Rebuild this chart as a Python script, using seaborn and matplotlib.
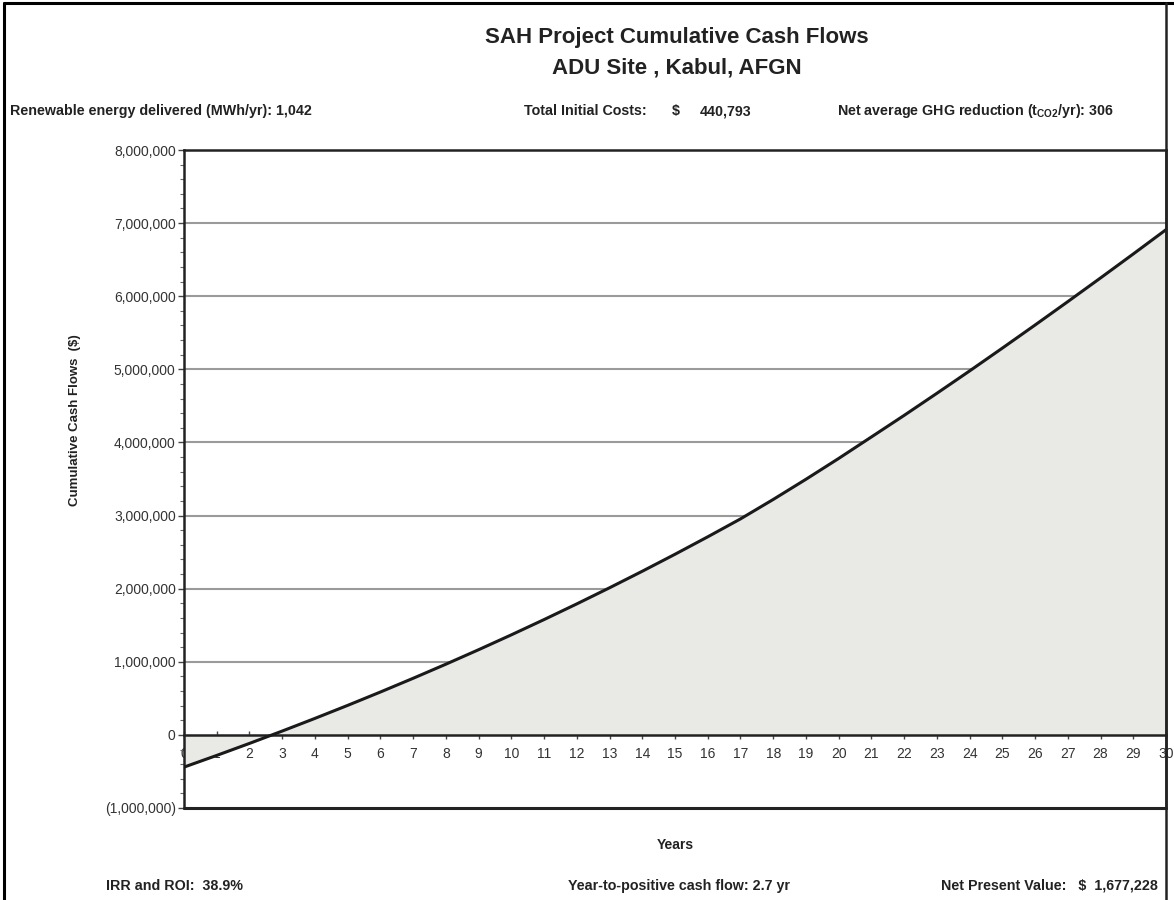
import seaborn as sns
import matplotlib.pyplot as plt
import matplotlib.ticker as mticker
from matplotlib.lines import Line2D
import pandas as pd

# values
years = list(range(0, 31))
cumulative = [-440793, -280800, -116500, 52300, 225600, 403600, 586400, 774100,
              966900, 1164900, 1368300, 1577200, 1791700, 2012000, 2238200,
              2470500, 2709100, 2954100, 3220000, 3496000, 3781000, 4075000,
              4370000, 4672000, 4978000, 5290000, 5606000, 5926000, 6250000,
              6578000, 6910000]

title_lines = ["SAH Project Cumulative Cash Flows", "ADU Site , Kabul, AFGN"]
energy_txt = "Renewable energy delivered (MWh/yr): 1,042"
cost_parts = ["Total Initial Costs:", "$", "440,793"]
ghg_txt = r"Net average GHG reduction (t$_{\mathrm{CO2}}$/yr): 306"
irr_txt = "IRR and ROI:  38.9%"
payback_txt = "Year-to-positive cash flow: 2.7 yr"
npv_txt = "Net Present Value:   $  1,677,228"

df = pd.DataFrame({"Years": years, "Cumulative": cumulative})

sns.set_theme(style="white")
plt.rcParams['font.family'] = ['Liberation Sans', 'DejaVu Sans']
plt.rcParams['mathtext.fontset'] = 'custom'
plt.rcParams['mathtext.rm'] = 'Liberation Sans:bold'

W, H = 1174, 900
fig = plt.figure(figsize=(W / 100, H / 100), dpi=100)
ax = fig.add_axes([184 / W, 1 - 808 / H, 982 / W, 658 / H])

# grid lines
for yv in range(1000000, 8000000, 1000000):
    ax.axhline(yv, color='#9a9a9a', lw=1.5, zorder=0)

ax.fill_between(df["Years"], df["Cumulative"], 0, color='#e9e9e6', zorder=1)
sns.lineplot(data=df, x="Years", y="Cumulative", color='#1a1a1a', lw=2.2, ax=ax, zorder=3)

ax.set_xlim(0, 30)
ax.set_ylim(-1000000, 8000000)

# x axis sits on the zero line
ax.spines['bottom'].set_position(('data', 0))
ax.spines['bottom'].set_linewidth(1.8)
ax.spines['bottom'].set_color('#222222')
ax.axhline(-1000000, color='#222222', lw=2.2, clip_on=False, zorder=4)
for s in ['left', 'top', 'right']:
    ax.spines[s].set_color('#222222')
    ax.spines[s].set_linewidth(1.8)

ax.set_xticks(years)
ax.set_xticklabels([str(y) for y in years])
ax.set_yticks(range(-1000000, 8000001, 1000000))
ax.yaxis.set_minor_locator(mticker.MultipleLocator(200000))
ax.yaxis.set_major_formatter(mticker.FuncFormatter(
    lambda v, p: f"{v:,.0f}" if v >= 0 else f"({-v:,.0f})"))
ax.tick_params(axis='y', which='major', left=True, length=4, width=1, color='#444444',
               labelsize=10, labelcolor='#333333', pad=2)
ax.tick_params(axis='y', which='minor', left=True, length=3, width=0.8, color='#666666')
ax.tick_params(axis='x', which='major', bottom=True, direction='inout', length=6, width=1,
               color='#444444', labelsize=10, labelcolor='#333333', pad=6)

ax.set_xlabel("Years", fontsize=10, fontweight='bold', color='#222222')
ax.xaxis.set_label_coords(0.5, -0.045)
ax.set_ylabel("Cumulative Cash Flows  ($)", fontsize=9.5, fontweight='bold', color='#222222')
ax.yaxis.set_label_coords(-0.105, 0.59)

# titles and summary text
txt = dict(va='baseline', fontsize=10.3, fontweight='bold', color='#222222')
fig.text(677 / W, 1 - 37 / H, title_lines[0], ha='center', va='center',
         fontsize=16, fontweight='bold', color='#222222')
fig.text(677 / W, 1 - 68 / H, title_lines[1], ha='center', va='center',
         fontsize=16, fontweight='bold', color='#222222')
fig.text(10 / W, 1 - 115 / H, energy_txt, ha='left', **txt)
fig.text(524 / W, 1 - 115 / H, cost_parts[0], ha='left', **txt)
fig.text(672 / W, 1 - 115 / H, cost_parts[1], ha='left', **txt)
fig.text(700 / W, 1 - 115 / H, cost_parts[2], ha='left', **txt)
fig.text(1114 / W, 1 - 115 / H, ghg_txt, ha='right', **txt)
fig.text(106 / W, 1 - 890 / H, irr_txt, ha='left', **txt)
fig.text(568 / W, 1 - 890 / H, payback_txt, ha='left', **txt)
fig.text(1158 / W, 1 - 890 / H, npv_txt, ha='right', **txt)

# outer frame
fig.add_artist(Line2D([4 / W, 1], [1 - 3 / H, 1 - 3 / H], color='black', lw=2.2))
fig.add_artist(Line2D([4 / W, 4 / W], [0, 1 - 3 / H], color='black', lw=2.2))
fig.add_artist(Line2D([1166 / W, 1166 / W], [0, 1 - 3 / H], color='#222222', lw=1.8))

plt.savefig("out.png", dpi=100)
